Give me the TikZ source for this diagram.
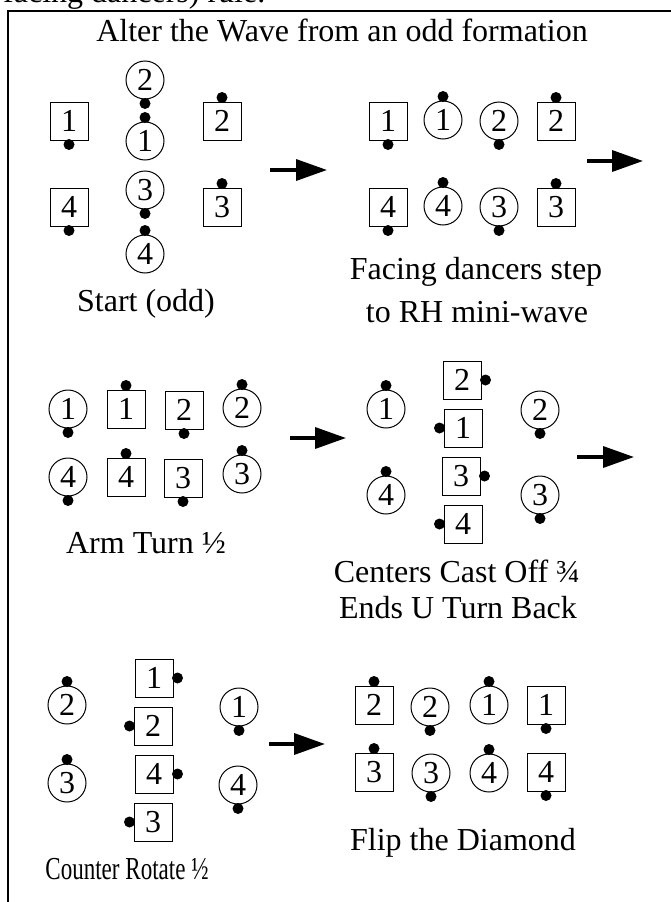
\documentclass[tikz,border=0pt]{standalone}
\usepackage{fontspec}
\setmainfont{Liberation Serif}
\usetikzlibrary{calc,arrows.meta}
\tikzset{
  every node/.style={font=\fontsize{32}{38}\selectfont, inner sep=0pt},
  sq/.style={draw, line width=1pt, rectangle, minimum size=38pt},
  ci/.style={draw, line width=1pt, circle, minimum size=38pt},
  lbl/.style={anchor=base},
  arr/.style={line width=3.5pt, -{Triangle[length=31pt,width=21pt]}},
  frame/.style={line width=2pt}
}
\newcommand\dancer[6]{%
  \node[#2] (#1) at (#3,#4) {#5};
  \fill ($(#1.#6)!-4pt!(#1.center)$) circle[radius=5.5pt];
}
\begin{document}
\begin{tikzpicture}[x=1pt,y=-1pt]
\useasboundingbox (0,0) rectangle (671,902);
% frame and cut-off text
\node[anchor=base west] (prev) at (3,2) {facing dancers) rule.};
\coordinate (fbl) at (7.5,910);
\coordinate (ftl) at (7.5,11);
\coordinate (ftr) at (680,11);
\draw[frame] (fbl) -- (ftl) -- (ftr);
\node[lbl] (title) at (342,41) {Alter the Wave from an odd formation};
% Panel 1
\dancer{p1s1}{sq}{69}{121}{1}{south}
\dancer{p1c2}{ci}{145}{80}{2}{south}
\dancer{p1c1}{ci}{145}{141}{1}{north}
\dancer{p1c3}{ci}{145}{190}{3}{south}
\dancer{p1c4}{ci}{145}{254}{4}{north}
\dancer{p1s2}{sq}{222}{121}{2}{north}
\dancer{p1s4}{sq}{69}{207}{4}{south}
\dancer{p1s3}{sq}{222}{207}{3}{north}
\node[lbl] (l1) at (146,311) {Start (odd)};
\coordinate (a1s) at (270,170); \coordinate (a1e) at (327,170);
\draw[arr] (a1s) -- (a1e);
% Panel 2
\dancer{p2s1}{sq}{388}{121}{1}{south}
\dancer{p2c1}{ci}{443}{120}{1}{north}
\dancer{p2c2}{ci}{499}{121}{2}{south}
\dancer{p2s2}{sq}{556}{121}{2}{north}
\dancer{p2s4}{sq}{388}{207}{4}{south}
\dancer{p2c4}{ci}{443}{206}{4}{north}
\dancer{p2c3}{ci}{499}{207}{3}{south}
\dancer{p2s3}{sq}{556}{207}{3}{north}
\node[lbl] (l2a) at (476,279) {Facing dancers step};
\node[lbl] (l2b) at (477,322) {to RH mini-wave};
\coordinate (a2s) at (587,161); \coordinate (a2e) at (643,161);
\draw[arr] (a2s) -- (a2e);
% Panel 3
\dancer{p3c1}{ci}{68}{409}{1}{south}
\dancer{p3s1}{sq}{126}{409}{1}{north}
\dancer{p3s2}{sq}{184}{410}{2}{south}
\dancer{p3c2}{ci}{242}{408}{2}{north}
\dancer{p3c4}{ci}{68}{477}{4}{south}
\dancer{p3s4}{sq}{126}{477}{4}{north}
\dancer{p3s3}{sq}{183}{478}{3}{south}
\dancer{p3c3}{ci}{242}{474}{3}{north}
\node[lbl] (l3) at (146,553) {Arm Turn ½};
\coordinate (a3s) at (290,438); \coordinate (a3e) at (346,438);
\draw[arr] (a3s) -- (a3e);
% Panel 4
\dancer{p4c1}{ci}{386}{409}{1}{north}
\dancer{p4c4}{ci}{386}{495}{4}{north}
\dancer{p4s2}{sq}{462}{380}{2}{east}
\dancer{p4s1}{sq}{463}{428}{1}{west}
\dancer{p4s3}{sq}{461}{476}{3}{east}
\dancer{p4s4}{sq}{463}{524}{4}{west}
\dancer{p4c2}{ci}{540}{410}{2}{south}
\dancer{p4c3}{ci}{540}{495}{3}{south}
\node[lbl] (l4a) at (457,582) {Centers Cast Off ¾};
\node[lbl] (l4b) at (458,618) {Ends U Turn Back};
\coordinate (a4s) at (577,457); \coordinate (a4e) at (634,457);
\draw[arr] (a4s) -- (a4e);
% Panel 5
\dancer{p5c2}{ci}{67}{705}{2}{north}
\dancer{p5c3}{ci}{67}{783}{3}{north}
\dancer{p5s1}{sq}{154}{678}{1}{east}
\dancer{p5s2}{sq}{153}{726}{2}{west}
\dancer{p5s4}{sq}{154}{774}{4}{east}
\dancer{p5s3}{sq}{153}{822}{3}{west}
\dancer{p5c1}{ci}{239}{707}{1}{south}
\dancer{p5c4}{ci}{238}{785}{4}{south}
\node[lbl] (l5) at (127,879) {\scalebox{0.72}[1]{Counter Rotate ½}};
\coordinate (a5s) at (269,744); \coordinate (a5e) at (325,744);
\draw[arr] (a5s) -- (a5e);
% Panel 6
\dancer{p6s2}{sq}{374}{705}{2}{north}
\dancer{p6c2}{ci}{430}{707}{2}{south}
\dancer{p6c1}{ci}{489}{705}{1}{north}
\dancer{p6s1}{sq}{546}{705}{1}{south}
\dancer{p6s3}{sq}{374}{772}{3}{north}
\dancer{p6c3}{ci}{431}{773}{3}{south}
\dancer{p6c4}{ci}{489}{773}{4}{north}
\dancer{p6s4}{sq}{546}{772}{4}{south}
\node[lbl] (l6) at (463,850) {Flip the Diamond};
\end{tikzpicture}
\end{document}
